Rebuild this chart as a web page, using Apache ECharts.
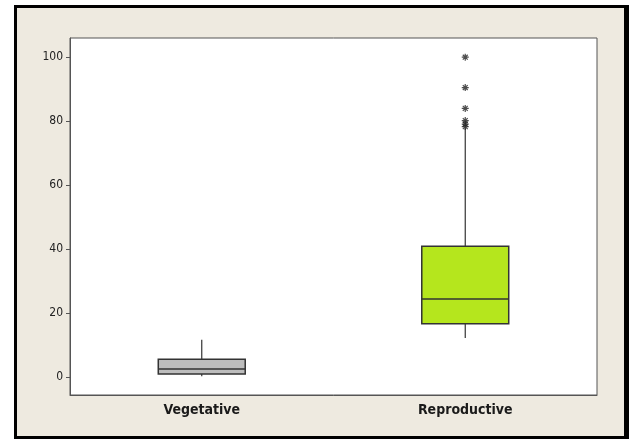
<!DOCTYPE html>
<html>
<head>
    <meta charset="utf-8">
    <title>Vegetative vs Reproductive</title>
    <script src="https://cdn.jsdelivr.net/npm/echarts@6/dist/echarts.min.js"></script>
    <style>
        html, body { margin: 0; padding: 0; background: #fff; }
    </style>
</head>
<body>
<div id="main" style="width: 629px;height:439px;"></div>
<script type="text/javascript">
    // groups on the x axis
    var categories = ['Vegetative', 'Reproductive'];
    // [min, Q1, median, Q3, max]
    var vegetativeBox = [0.3, 1.0, 2.5, 5.6, 11.7];
    var reproductiveBox = [12.2, 16.7, 24.4, 40.9, 77.8];
    // outliers (asterisks) of the Reproductive group
    var reproductiveOutliers = [100, 90.5, 84, 80.2, 79.1, 78.3];
    var yTicks = [0, 20, 40, 60, 80, 100];

    var boxColors = ['#bdbdbd', '#b5e61d'];
    var asterisk = 'path://M0,5L10,5M5,0L5,10M1.5,1.5L8.5,8.5M8.5,1.5L1.5,8.5';

    var myChart = echarts.init(document.getElementById('main'));

    // Minitab style box: no caps on the whiskers
    function renderBox(params, api) {
        var idx = api.value(0);
        var lo = api.coord([idx, api.value(1)]);
        var q1 = api.coord([idx, api.value(2)]);
        var med = api.coord([idx, api.value(3)]);
        var q3 = api.coord([idx, api.value(4)]);
        var hi = api.coord([idx, api.value(5)]);
        var w = api.size([1, 0])[0] * 0.33;
        var x = lo[0];
        var line = { stroke: '#333', lineWidth: 1.2 };
        return {
            type: 'group',
            children: [
                { type: 'line', shape: { x1: x, y1: lo[1], x2: x, y2: q1[1] }, style: line },
                { type: 'line', shape: { x1: x, y1: q3[1], x2: x, y2: hi[1] }, style: line },
                {
                    type: 'rect',
                    shape: { x: x - w / 2, y: q3[1], width: w, height: q1[1] - q3[1] },
                    style: { fill: boxColors[idx], stroke: '#333', lineWidth: 1.5 }
                },
                {
                    type: 'line',
                    shape: { x1: x - w / 2, y1: med[1], x2: x + w / 2, y2: med[1] },
                    style: { stroke: '#333', lineWidth: 1.5 }
                }
            ]
        };
    }

    myChart.setOption({
        animation: false,
        backgroundColor: '#fff',
        graphic: [
            {
                type: 'rect',
                z: -10,
                shape: { x: 15.5, y: 6.5, width: 610, height: 431 },
                style: { fill: '#eeeae0', stroke: '#000', lineWidth: 3 }
            },
            {
                type: 'rect',
                z: -9,
                shape: { x: 624, y: 5, width: 5, height: 434 },
                style: { fill: '#000' }
            }
        ],
        grid: {
            left: 70,
            top: 38,
            right: 32,
            bottom: 44,
            show: true,
            backgroundColor: '#fff',
            borderColor: '#555',
            borderWidth: 1
        },
        xAxis: {
            type: 'category',
            data: categories,
            boundaryGap: true,
            axisLine: { onZero: false, lineStyle: { color: '#555', width: 1 } },
            axisTick: { alignWithLabel: true, length: 5, lineStyle: { color: '#555' } },
            axisLabel: {
                margin: 8,
                color: '#1a1a1a',
                fontFamily: 'DejaVu Sans Condensed',
                fontWeight: 'bold',
                fontSize: 14
            },
            splitLine: { show: false }
        },
        yAxis: {
            type: 'value',
            min: -5.6,
            max: 106,
            axisLine: { show: true, lineStyle: { color: '#555', width: 1 } },
            axisTick: { show: true, length: 4, customValues: yTicks, lineStyle: { color: '#555' } },
            axisLabel: {
                customValues: yTicks,
                margin: 7,
                color: '#222',
                fontFamily: 'DejaVu Sans Condensed',
                fontSize: 12
            },
            splitLine: { show: false }
        },
        series: [
            {
                type: 'custom',
                renderItem: renderBox,
                encode: { x: 0, y: [1, 2, 3, 4, 5] },
                data: [
                    [0].concat(vegetativeBox),
                    [1].concat(reproductiveBox)
                ]
            },
            {
                type: 'scatter',
                symbol: asterisk,
                symbolSize: 7,
                data: reproductiveOutliers.map(function (v) {
                    return [categories[1], v];
                }),
                itemStyle: {
                    color: 'transparent',
                    borderColor: '#222',
                    borderWidth: 1.2
                }
            }
        ]
    });
</script>
</body>
</html>
